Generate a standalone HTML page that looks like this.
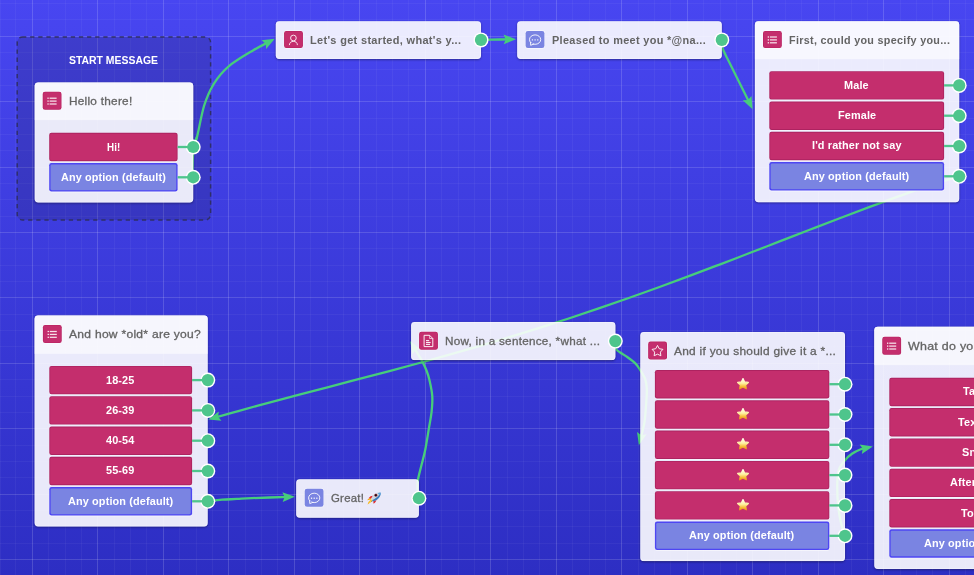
<!DOCTYPE html>
<html><head><meta charset="utf-8"><title>Flow</title>
<style>
html,body{margin:0;padding:0;}
body{width:974px;height:575px;overflow:hidden;position:relative;background:linear-gradient(180deg,#4846f1 0%,#2d2ec3 100%);font-family:"Liberation Sans",sans-serif;}
svg{position:absolute;left:0;top:0;}
#txt{position:absolute;left:0;top:0;width:974px;height:575px;will-change:transform;}
.t{position:absolute;white-space:nowrap;transform-origin:0 50%;}
.g{-webkit-text-stroke:0.3px #646464;}
.star{position:absolute;line-height:0;}
.star svg{position:static;display:block;}
</style></head>
<body>
<svg width="974" height="575" viewBox="0 0 974 575">
<defs><filter id="sh" x="-10%" y="-10%" width="120%" height="130%"><feGaussianBlur stdDeviation="1.3"/></filter></defs>
<g id="grid">
<rect x="0" y="0" width="1" height="575" fill="#fff" opacity="0.045"/>
<rect x="15" y="0" width="1" height="575" fill="#fff" opacity="0.045"/>
<rect x="32" y="0" width="1" height="575" fill="#fff" opacity="0.155"/>
<rect x="48" y="0" width="1" height="575" fill="#fff" opacity="0.045"/>
<rect x="65" y="0" width="1" height="575" fill="#fff" opacity="0.045"/>
<rect x="81" y="0" width="1" height="575" fill="#fff" opacity="0.045"/>
<rect x="97" y="0" width="1" height="575" fill="#fff" opacity="0.155"/>
<rect x="114" y="0" width="1" height="575" fill="#fff" opacity="0.045"/>
<rect x="130" y="0" width="1" height="575" fill="#fff" opacity="0.045"/>
<rect x="146" y="0" width="1" height="575" fill="#fff" opacity="0.045"/>
<rect x="163" y="0" width="1" height="575" fill="#fff" opacity="0.155"/>
<rect x="179" y="0" width="1" height="575" fill="#fff" opacity="0.045"/>
<rect x="196" y="0" width="1" height="575" fill="#fff" opacity="0.045"/>
<rect x="212" y="0" width="1" height="575" fill="#fff" opacity="0.045"/>
<rect x="228" y="0" width="1" height="575" fill="#fff" opacity="0.155"/>
<rect x="245" y="0" width="1" height="575" fill="#fff" opacity="0.045"/>
<rect x="261" y="0" width="1" height="575" fill="#fff" opacity="0.045"/>
<rect x="277" y="0" width="1" height="575" fill="#fff" opacity="0.045"/>
<rect x="294" y="0" width="1" height="575" fill="#fff" opacity="0.155"/>
<rect x="310" y="0" width="1" height="575" fill="#fff" opacity="0.045"/>
<rect x="327" y="0" width="1" height="575" fill="#fff" opacity="0.045"/>
<rect x="343" y="0" width="1" height="575" fill="#fff" opacity="0.045"/>
<rect x="359" y="0" width="1" height="575" fill="#fff" opacity="0.155"/>
<rect x="376" y="0" width="1" height="575" fill="#fff" opacity="0.045"/>
<rect x="392" y="0" width="1" height="575" fill="#fff" opacity="0.045"/>
<rect x="408" y="0" width="1" height="575" fill="#fff" opacity="0.045"/>
<rect x="425" y="0" width="1" height="575" fill="#fff" opacity="0.155"/>
<rect x="441" y="0" width="1" height="575" fill="#fff" opacity="0.045"/>
<rect x="458" y="0" width="1" height="575" fill="#fff" opacity="0.045"/>
<rect x="474" y="0" width="1" height="575" fill="#fff" opacity="0.045"/>
<rect x="490" y="0" width="1" height="575" fill="#fff" opacity="0.155"/>
<rect x="507" y="0" width="1" height="575" fill="#fff" opacity="0.045"/>
<rect x="523" y="0" width="1" height="575" fill="#fff" opacity="0.045"/>
<rect x="539" y="0" width="1" height="575" fill="#fff" opacity="0.045"/>
<rect x="556" y="0" width="1" height="575" fill="#fff" opacity="0.155"/>
<rect x="572" y="0" width="1" height="575" fill="#fff" opacity="0.045"/>
<rect x="589" y="0" width="1" height="575" fill="#fff" opacity="0.045"/>
<rect x="605" y="0" width="1" height="575" fill="#fff" opacity="0.045"/>
<rect x="621" y="0" width="1" height="575" fill="#fff" opacity="0.155"/>
<rect x="638" y="0" width="1" height="575" fill="#fff" opacity="0.045"/>
<rect x="654" y="0" width="1" height="575" fill="#fff" opacity="0.045"/>
<rect x="670" y="0" width="1" height="575" fill="#fff" opacity="0.045"/>
<rect x="687" y="0" width="1" height="575" fill="#fff" opacity="0.155"/>
<rect x="703" y="0" width="1" height="575" fill="#fff" opacity="0.045"/>
<rect x="720" y="0" width="1" height="575" fill="#fff" opacity="0.045"/>
<rect x="736" y="0" width="1" height="575" fill="#fff" opacity="0.045"/>
<rect x="752" y="0" width="1" height="575" fill="#fff" opacity="0.155"/>
<rect x="769" y="0" width="1" height="575" fill="#fff" opacity="0.045"/>
<rect x="785" y="0" width="1" height="575" fill="#fff" opacity="0.045"/>
<rect x="801" y="0" width="1" height="575" fill="#fff" opacity="0.045"/>
<rect x="818" y="0" width="1" height="575" fill="#fff" opacity="0.155"/>
<rect x="834" y="0" width="1" height="575" fill="#fff" opacity="0.045"/>
<rect x="851" y="0" width="1" height="575" fill="#fff" opacity="0.045"/>
<rect x="867" y="0" width="1" height="575" fill="#fff" opacity="0.045"/>
<rect x="883" y="0" width="1" height="575" fill="#fff" opacity="0.155"/>
<rect x="900" y="0" width="1" height="575" fill="#fff" opacity="0.045"/>
<rect x="916" y="0" width="1" height="575" fill="#fff" opacity="0.045"/>
<rect x="932" y="0" width="1" height="575" fill="#fff" opacity="0.045"/>
<rect x="949" y="0" width="1" height="575" fill="#fff" opacity="0.155"/>
<rect x="965" y="0" width="1" height="575" fill="#fff" opacity="0.045"/>
<rect x="0" y="3" width="974" height="1" fill="#fff" opacity="0.045"/>
<rect x="0" y="19" width="974" height="1" fill="#fff" opacity="0.045"/>
<rect x="0" y="36" width="974" height="1" fill="#fff" opacity="0.145"/>
<rect x="0" y="52" width="974" height="1" fill="#fff" opacity="0.045"/>
<rect x="0" y="69" width="974" height="1" fill="#fff" opacity="0.045"/>
<rect x="0" y="85" width="974" height="1" fill="#fff" opacity="0.045"/>
<rect x="0" y="101" width="974" height="1" fill="#fff" opacity="0.145"/>
<rect x="0" y="118" width="974" height="1" fill="#fff" opacity="0.045"/>
<rect x="0" y="134" width="974" height="1" fill="#fff" opacity="0.045"/>
<rect x="0" y="150" width="974" height="1" fill="#fff" opacity="0.045"/>
<rect x="0" y="167" width="974" height="1" fill="#fff" opacity="0.145"/>
<rect x="0" y="183" width="974" height="1" fill="#fff" opacity="0.045"/>
<rect x="0" y="199" width="974" height="1" fill="#fff" opacity="0.045"/>
<rect x="0" y="216" width="974" height="1" fill="#fff" opacity="0.045"/>
<rect x="0" y="232" width="974" height="1" fill="#fff" opacity="0.145"/>
<rect x="0" y="248" width="974" height="1" fill="#fff" opacity="0.045"/>
<rect x="0" y="265" width="974" height="1" fill="#fff" opacity="0.045"/>
<rect x="0" y="281" width="974" height="1" fill="#fff" opacity="0.045"/>
<rect x="0" y="297" width="974" height="1" fill="#fff" opacity="0.145"/>
<rect x="0" y="314" width="974" height="1" fill="#fff" opacity="0.045"/>
<rect x="0" y="330" width="974" height="1" fill="#fff" opacity="0.045"/>
<rect x="0" y="346" width="974" height="1" fill="#fff" opacity="0.045"/>
<rect x="0" y="363" width="974" height="1" fill="#fff" opacity="0.145"/>
<rect x="0" y="379" width="974" height="1" fill="#fff" opacity="0.045"/>
<rect x="0" y="396" width="974" height="1" fill="#fff" opacity="0.045"/>
<rect x="0" y="412" width="974" height="1" fill="#fff" opacity="0.045"/>
<rect x="0" y="428" width="974" height="1" fill="#fff" opacity="0.145"/>
<rect x="0" y="445" width="974" height="1" fill="#fff" opacity="0.045"/>
<rect x="0" y="461" width="974" height="1" fill="#fff" opacity="0.045"/>
<rect x="0" y="477" width="974" height="1" fill="#fff" opacity="0.045"/>
<rect x="0" y="494" width="974" height="1" fill="#fff" opacity="0.145"/>
<rect x="0" y="510" width="974" height="1" fill="#fff" opacity="0.045"/>
<rect x="0" y="526" width="974" height="1" fill="#fff" opacity="0.045"/>
<rect x="0" y="543" width="974" height="1" fill="#fff" opacity="0.045"/>
<rect x="0" y="559" width="974" height="1" fill="#fff" opacity="0.145"/>
<rect x="0" y="575" width="974" height="1" fill="#fff" opacity="0.045"/>
</g>
<rect x="17.2" y="36.9" width="193.4" height="183.1" rx="5.5" ry="5.5" fill="#1e1e46" fill-opacity="0.2" stroke="#2f2f5e" stroke-opacity="0.92" stroke-width="1.45" stroke-dasharray="4.3 3.83" stroke-dashoffset="0.7"/>
<g id="under">
<path d="M 193.4 146.9 C 194 145.23 195.18 143.85 197 136.9 C 198.82 129.95 201.45 114.13 204.3 105.2 C 207.15 96.27 210.03 89.78 214.1 83.3 C 218.17 76.82 222.22 71.78 228.7 66.3 C 235.18 60.82 246.2 54.51 253 50.4 C 259.8 46.29 266.75 43.08 269.5 41.62" fill="none" stroke="#47cd7b" stroke-width="2.3" stroke-linecap="round"/>
<polygon points="274.8,38.8 266.16,48.95 265.71,43.64 261.55,40.3" fill="#47cd7b"/>
<path d="M 192.5 177.3 C 192.52 175.25 192.48 169.05 192.6 165 C 192.72 160.95 192.82 156.67 193.2 153 C 193.58 149.33 194.27 145.68 194.9 143 C 195.53 140.32 196.65 137.92 197 136.9" fill="none" stroke="#47cd7b" stroke-width="2.3" stroke-linecap="round"/>
<path d="M 481 39.9 C 484.17 39.83 495.17 39.59 500 39.5 C 504.83 39.41 508.33 39.4 510 39.37" fill="none" stroke="#47cd7b" stroke-width="2.3" stroke-linecap="round"/>
<polygon points="516,39.3 503.66,44.35 505.7,39.43 503.54,34.56" fill="#47cd7b"/>
<path d="M 721.8 39.9 C 721.88 41.17 721.67 44.98 722.3 47.5 C 722.93 50.02 724.5 52.67 725.6 55 C 726.7 57.33 727.32 58.33 728.9 61.5 C 730.48 64.67 733.15 70.08 735.1 74 C 737.05 77.92 738.13 80.03 740.6 85 C 743.07 89.97 748.38 100.69 749.93 103.82" fill="none" stroke="#47cd7b" stroke-width="2.3" stroke-linecap="round"/>
<polygon points="752.6,109.2 742.7,100.27 748.02,99.97 751.48,95.91" fill="#47cd7b"/>
<path d="M 959.2 176.4 C 954.19 177.95 939.17 182.39 929.16 185.68 C 919.15 188.98 909.13 192.59 899.12 196.17 C 889.11 199.74 879.09 203.43 869.08 207.15 C 859.07 210.87 849.05 214.67 839.04 218.48 C 829.03 222.29 819.01 226.16 809 230.03 C 798.99 233.89 788.97 237.79 778.96 241.67 C 768.95 245.55 758.93 249.44 748.92 253.3 C 738.91 257.15 728.89 261.01 718.88 264.81 C 708.87 268.62 698.85 272.41 688.84 276.15 C 678.83 279.88 668.81 283.58 658.8 287.22 C 648.79 290.86 638.77 294.46 628.76 297.99 C 618.75 301.53 608.73 305.01 598.72 308.42 C 588.71 311.83 578.69 315.18 568.68 318.47 C 558.67 321.76 548.65 324.98 538.64 328.14 C 528.63 331.3 518.61 334.4 508.6 337.43 C 498.59 340.47 488.57 343.44 478.56 346.36 C 468.55 349.28 458.53 352.13 448.52 354.95 C 438.51 357.76 428.49 360.52 418.48 363.24 C 408.47 365.97 398.45 368.64 388.44 371.3 C 378.43 373.96 368.41 376.58 358.4 379.2 C 348.39 381.82 338.37 384.41 328.36 387.02 C 318.35 389.63 308.33 392.22 298.32 394.86 C 288.31 397.49 278.29 400.12 268.28 402.82 C 258.27 405.52 247.29 408.53 238.24 411.04 C 229.19 413.55 218.02 416.73 213.98 417.87" fill="none" stroke="#47cd7b" stroke-width="2.3" stroke-linecap="round"/>
<polygon points="208.2,419.5 218.81,411.42 218.11,416.71 221.46,420.86" fill="#47cd7b"/>
<path d="M 207.8 501 C 210.17 500.78 217.13 500.04 222 499.7 C 226.87 499.36 232 499.22 237 498.95 C 242 498.68 243.35 498.44 252 498.1 C 260.65 497.76 282.75 497.1 288.9 496.9" fill="none" stroke="#47cd7b" stroke-width="2.3" stroke-linecap="round"/>
<polygon points="294.9,496.7 282.67,502 284.61,497.04 282.35,492.21" fill="#47cd7b"/>
<path d="M 418.8 498.1 C 418.58 496.58 417.63 492.1 417.5 489 C 417.37 485.9 417.33 483.5 418 479.5 C 418.67 475.5 420.3 469.92 421.5 465 C 422.7 460.08 423.97 456.07 425.2 450 C 426.43 443.93 427.78 435 428.85 428.6 C 429.92 422.2 431.03 417.07 431.6 411.6 C 432.17 406.13 432.61 401.07 432.25 395.8 C 431.89 390.53 430.39 384.18 429.45 380 C 428.51 375.82 427.86 373.98 426.6 370.75 C 425.34 367.52 424.11 364.65 421.9 360.6 C 419.69 356.55 414.74 348.79 413.31 346.43" fill="none" stroke="#47cd7b" stroke-width="2.3" stroke-linecap="round"/>
<polygon points="410.2,341.3 420.82,349.36 415.54,350.11 412.44,354.44" fill="#47cd7b"/>
<path d="M 615.3 341.2 C 615.38 342.43 614.98 346.72 615.8 348.6 C 616.62 350.48 618.52 351.25 620.2 352.5 C 621.88 353.75 623.38 354.28 625.9 356.1 C 628.42 357.92 632.9 361.05 635.3 363.4 C 637.7 365.75 638.65 367.58 640.3 370.2 C 641.95 372.82 644.12 376.05 645.2 379.1 C 646.28 382.15 646.6 384.98 646.8 388.5 C 647 392.02 646.78 394.6 646.4 400.2 C 646.02 405.8 645.51 415.57 644.5 422.1 C 643.49 428.63 641.01 436.49 640.31 439.37" fill="none" stroke="#47cd7b" stroke-width="2.3" stroke-linecap="round"/>
<polygon points="638.9,445.2 637.06,431.99 641.33,435.19 646.58,434.3" fill="#47cd7b"/>
<path d="M 845 535.8 C 844.32 533.57 842.05 527.42 840.9 522.4 C 839.75 517.38 838.7 512.18 838.1 505.7 C 837.5 499.22 837.17 489.52 837.3 483.5 C 837.43 477.48 837.62 473.48 838.9 469.6 C 840.18 465.72 842.82 462.83 845 460.2 C 847.18 457.57 849.37 455.62 852 453.8 C 854.63 451.98 858.31 450.29 860.8 449.3 C 863.29 448.31 865.93 448.1 866.96 447.86" fill="none" stroke="#47cd7b" stroke-width="2.3" stroke-linecap="round"/>
<polygon points="872.8,446.5 861.84,454.09 862.77,448.84 859.61,444.55" fill="#47cd7b"/>
</g>
<g id="cards">
<clipPath id="c0o"><path clip-rule="evenodd" d="M -20 -20 H 1100 V 700 H -20 Z M 38.1 82.4 h 151.7 a 3.4 3.4 0 0 1 3.4 3.4 v 113.3 a 3.4 3.4 0 0 1 -3.4 3.4 h -151.7 a 3.4 3.4 0 0 1 -3.4 -3.4 v -113.3 a 3.4 3.4 0 0 1 3.4 -3.4 z"/></clipPath>
<g clip-path="url(#c0o)"><rect x="34.7" y="83.2" width="158.5" height="120.1" rx="3.4" ry="3.4" fill="#000" filter="url(#sh)" opacity="0.42"/></g>
<clipPath id="c0"><rect x="34.7" y="82.4" width="158.5" height="120.1" rx="3.4" ry="3.4" fill="#fff" /></clipPath>
<g clip-path="url(#c0)">
<rect x="33.7" y="81.4" width="160.5" height="122.1" fill="#fff" fill-opacity="0.893"/>
<rect x="33.7" y="81.4" width="160.5" height="38.7" fill="#fff" fill-opacity="0.58"/>
</g>
<rect x="35.11" y="82.81" width="157.68" height="119.28" rx="3.1" ry="3.1" fill="none" stroke="#fff" stroke-opacity="0.4" stroke-width="0.82"/>
<rect x="42.15" y="91.15" width="19.9" height="19.1" rx="2.8" ry="2.8" fill="#fff" fill-opacity="0.6"/>
<rect x="42.7" y="91.7" width="18.8" height="18" rx="2.3" ry="2.3" fill="#b62060" />
<rect x="43.3" y="92.3" width="17.6" height="16.8" rx="1.8" ry="1.8" fill="#c42e6d" />
<rect x="47.4" y="97.58" width="1.3" height="1.25" fill="#fff" opacity=".95"/>
<rect x="49.6" y="97.58" width="7.0" height="1.25" fill="#fff" opacity=".85"/>
<rect x="47.4" y="100.48" width="1.3" height="1.25" fill="#fff" opacity=".95"/>
<rect x="49.6" y="100.48" width="7.0" height="1.25" fill="#fff" opacity=".85"/>
<rect x="47.4" y="103.38" width="1.3" height="1.25" fill="#fff" opacity=".95"/>
<rect x="49.6" y="103.38" width="7.0" height="1.25" fill="#fff" opacity=".85"/>
<rect x="49.2" y="133.7" width="128.4" height="28.4" rx="2.2" ry="2.2" fill="#fff" fill-opacity="0.55"/>
<rect x="49.2" y="132.8" width="128.4" height="28.4" rx="2.2" ry="2.2" fill="#ad2360" />
<rect x="50.1" y="133.7" width="126.6" height="26.6" rx="1.4" ry="1.4" fill="#c42e6d" />
<circle cx="193.2" cy="147" r="7.5" fill="#fff"/>
<rect x="177.6" y="145.85" width="15.6" height="2.3" fill="#4ec58c"/>
<circle cx="193.2" cy="147" r="6.1" fill="#4ec58c"/>
<rect x="49.2" y="164" width="128.4" height="28.4" rx="2.2" ry="2.2" fill="#fff" fill-opacity="0.55"/>
<rect x="49.2" y="163.1" width="128.4" height="28.4" rx="2.2" ry="2.2" fill="#4e46f3" />
<rect x="50.55" y="164.45" width="125.7" height="25.7" rx="1.4" ry="1.4" fill="#7a84e2" />
<circle cx="193.2" cy="177.3" r="7.5" fill="#fff"/>
<rect x="177.6" y="176.15" width="15.6" height="2.3" fill="#4ec58c"/>
<circle cx="193.2" cy="177.3" r="6.1" fill="#4ec58c"/>
<clipPath id="c29o"><path clip-rule="evenodd" d="M -20 -20 H 1100 V 700 H -20 Z M 279.2 21.2 h 198.4 a 3.4 3.4 0 0 1 3.4 3.4 v 30.9 a 3.4 3.4 0 0 1 -3.4 3.4 h -198.4 a 3.4 3.4 0 0 1 -3.4 -3.4 v -30.9 a 3.4 3.4 0 0 1 3.4 -3.4 z"/></clipPath>
<g clip-path="url(#c29o)"><rect x="275.8" y="22" width="205.2" height="37.7" rx="3.4" ry="3.4" fill="#000" filter="url(#sh)" opacity="0.42"/></g>
<clipPath id="c29"><rect x="275.8" y="21.2" width="205.2" height="37.7" rx="3.4" ry="3.4" fill="#fff" /></clipPath>
<rect x="275.8" y="21.2" width="205.2" height="37.7" rx="3.4" ry="3.4" fill="#fff" fill-opacity="0.893"/>
<rect x="276.21" y="21.61" width="204.38" height="36.88" rx="3.1" ry="3.1" fill="none" stroke="#fff" stroke-opacity="0.4" stroke-width="0.82"/>
<rect x="283.55" y="30.35" width="19.9" height="18.3" rx="2.8" ry="2.8" fill="#fff" fill-opacity="0.6"/>
<rect x="284.1" y="30.9" width="18.8" height="17.2" rx="2.3" ry="2.3" fill="#b62060" />
<rect x="284.7" y="31.5" width="17.6" height="16" rx="1.8" ry="1.8" fill="#c42e6d" />
<circle cx="293.4" cy="38" r="2.85" fill="none" stroke="#fff" stroke-opacity=".85" stroke-width="1.0"/>
<path d="M 289.4 44.7 C 289.6 42.4 291.2 41.4 293.4 41.4 C 295.6 41.4 297.2 42.4 297.4 44.7" fill="none" stroke="#fff" stroke-opacity=".85" stroke-width="1.0" stroke-linecap="round"/>
<circle cx="481" cy="39.9" r="7.5" fill="#fff"/>
<circle cx="481" cy="39.9" r="6.1" fill="#4ec58c"/>
<clipPath id="c41o"><path clip-rule="evenodd" d="M -20 -20 H 1100 V 700 H -20 Z M 520.6 21.2 h 197.8 a 3.4 3.4 0 0 1 3.4 3.4 v 30.9 a 3.4 3.4 0 0 1 -3.4 3.4 h -197.8 a 3.4 3.4 0 0 1 -3.4 -3.4 v -30.9 a 3.4 3.4 0 0 1 3.4 -3.4 z"/></clipPath>
<g clip-path="url(#c41o)"><rect x="517.2" y="22" width="204.6" height="37.7" rx="3.4" ry="3.4" fill="#000" filter="url(#sh)" opacity="0.42"/></g>
<clipPath id="c41"><rect x="517.2" y="21.2" width="204.6" height="37.7" rx="3.4" ry="3.4" fill="#fff" /></clipPath>
<rect x="517.2" y="21.2" width="204.6" height="37.7" rx="3.4" ry="3.4" fill="#fff" fill-opacity="0.893"/>
<rect x="517.61" y="21.61" width="203.78" height="36.88" rx="3.1" ry="3.1" fill="none" stroke="#fff" stroke-opacity="0.4" stroke-width="0.82"/>
<rect x="525.05" y="30.35" width="19.9" height="18.3" rx="2.8" ry="2.8" fill="#fff" fill-opacity="0.6"/>
<rect x="525.6" y="30.9" width="18.8" height="17.2" rx="2.3" ry="2.3" fill="#7a84e2" />
<ellipse cx="535.1" cy="39.6" rx="5.6" ry="4.7" fill="none" stroke="#fff" stroke-opacity=".88" stroke-width="1.0"/>
<path d="M 530.5 42.3 L 530.7 45.3 L 533.6 44.1" fill="#7a84e2" stroke="#fff" stroke-opacity=".88" stroke-width="1.0" stroke-linejoin="round" stroke-linecap="round"/>
<rect x="531.8" y="39.2" width="1.3" height="1.4" rx=".3" fill="#fff" opacity=".85"/>
<rect x="534.45" y="39.2" width="1.3" height="1.4" rx=".3" fill="#fff" opacity=".85"/>
<rect x="537.1" y="39.2" width="1.3" height="1.4" rx=".3" fill="#fff" opacity=".85"/>
<circle cx="721.8" cy="39.9" r="7.5" fill="#fff"/>
<circle cx="721.8" cy="39.9" r="6.1" fill="#4ec58c"/>
<clipPath id="c55o"><path clip-rule="evenodd" d="M -20 -20 H 1100 V 700 H -20 Z M 758.3 21.3 h 197.5 a 3.4 3.4 0 0 1 3.4 3.4 v 174.1 a 3.4 3.4 0 0 1 -3.4 3.4 h -197.5 a 3.4 3.4 0 0 1 -3.4 -3.4 v -174.1 a 3.4 3.4 0 0 1 3.4 -3.4 z"/></clipPath>
<g clip-path="url(#c55o)"><rect x="754.9" y="22.1" width="204.3" height="180.9" rx="3.4" ry="3.4" fill="#000" filter="url(#sh)" opacity="0.42"/></g>
<clipPath id="c55"><rect x="754.9" y="21.3" width="204.3" height="180.9" rx="3.4" ry="3.4" fill="#fff" /></clipPath>
<g clip-path="url(#c55)">
<rect x="753.9" y="20.3" width="206.3" height="182.9" fill="#fff" fill-opacity="0.893"/>
<rect x="753.9" y="20.3" width="206.3" height="38.9" fill="#fff" fill-opacity="0.58"/>
</g>
<rect x="755.31" y="21.71" width="203.48" height="180.08" rx="3.1" ry="3.1" fill="none" stroke="#fff" stroke-opacity="0.4" stroke-width="0.82"/>
<rect x="762.45" y="30.35" width="19.9" height="18.3" rx="2.8" ry="2.8" fill="#fff" fill-opacity="0.6"/>
<rect x="763" y="30.9" width="18.8" height="17.2" rx="2.3" ry="2.3" fill="#b62060" />
<rect x="763.6" y="31.5" width="17.6" height="16" rx="1.8" ry="1.8" fill="#c42e6d" />
<rect x="767.7" y="36.38" width="1.3" height="1.25" fill="#fff" opacity=".95"/>
<rect x="769.9" y="36.38" width="7.0" height="1.25" fill="#fff" opacity=".85"/>
<rect x="767.7" y="39.28" width="1.3" height="1.25" fill="#fff" opacity=".95"/>
<rect x="769.9" y="39.28" width="7.0" height="1.25" fill="#fff" opacity=".85"/>
<rect x="767.7" y="42.18" width="1.3" height="1.25" fill="#fff" opacity=".95"/>
<rect x="769.9" y="42.18" width="7.0" height="1.25" fill="#fff" opacity=".85"/>
<rect x="769.3" y="72.1" width="174.8" height="28.4" rx="2.2" ry="2.2" fill="#fff" fill-opacity="0.55"/>
<rect x="769.3" y="71.2" width="174.8" height="28.4" rx="2.2" ry="2.2" fill="#ad2360" />
<rect x="770.2" y="72.1" width="173" height="26.6" rx="1.4" ry="1.4" fill="#c42e6d" />
<circle cx="959.2" cy="85.4" r="7.5" fill="#fff"/>
<rect x="944.1" y="84.25" width="15.1" height="2.3" fill="#4ec58c"/>
<circle cx="959.2" cy="85.4" r="6.1" fill="#4ec58c"/>
<rect x="769.3" y="102.4" width="174.8" height="28.4" rx="2.2" ry="2.2" fill="#fff" fill-opacity="0.55"/>
<rect x="769.3" y="101.5" width="174.8" height="28.4" rx="2.2" ry="2.2" fill="#ad2360" />
<rect x="770.2" y="102.4" width="173" height="26.6" rx="1.4" ry="1.4" fill="#c42e6d" />
<circle cx="959.2" cy="115.7" r="7.5" fill="#fff"/>
<rect x="944.1" y="114.55" width="15.1" height="2.3" fill="#4ec58c"/>
<circle cx="959.2" cy="115.7" r="6.1" fill="#4ec58c"/>
<rect x="769.3" y="132.7" width="174.8" height="28.4" rx="2.2" ry="2.2" fill="#fff" fill-opacity="0.55"/>
<rect x="769.3" y="131.8" width="174.8" height="28.4" rx="2.2" ry="2.2" fill="#ad2360" />
<rect x="770.2" y="132.7" width="173" height="26.6" rx="1.4" ry="1.4" fill="#c42e6d" />
<circle cx="959.2" cy="146" r="7.5" fill="#fff"/>
<rect x="944.1" y="144.85" width="15.1" height="2.3" fill="#4ec58c"/>
<circle cx="959.2" cy="146" r="6.1" fill="#4ec58c"/>
<rect x="769.3" y="163" width="174.8" height="28.4" rx="2.2" ry="2.2" fill="#fff" fill-opacity="0.55"/>
<rect x="769.3" y="162.1" width="174.8" height="28.4" rx="2.2" ry="2.2" fill="#4e46f3" />
<rect x="770.65" y="163.45" width="172.1" height="25.7" rx="1.4" ry="1.4" fill="#7a84e2" />
<circle cx="959.2" cy="176.3" r="7.5" fill="#fff"/>
<rect x="944.1" y="175.15" width="15.1" height="2.3" fill="#4ec58c"/>
<circle cx="959.2" cy="176.3" r="6.1" fill="#4ec58c"/>
<clipPath id="c96o"><path clip-rule="evenodd" d="M -20 -20 H 1100 V 700 H -20 Z M 38 315.4 h 166.3 a 3.4 3.4 0 0 1 3.4 3.4 v 204.2 a 3.4 3.4 0 0 1 -3.4 3.4 h -166.3 a 3.4 3.4 0 0 1 -3.4 -3.4 v -204.2 a 3.4 3.4 0 0 1 3.4 -3.4 z"/></clipPath>
<g clip-path="url(#c96o)"><rect x="34.6" y="316.2" width="173.1" height="211" rx="3.4" ry="3.4" fill="#000" filter="url(#sh)" opacity="0.42"/></g>
<clipPath id="c96"><rect x="34.6" y="315.4" width="173.1" height="211" rx="3.4" ry="3.4" fill="#fff" /></clipPath>
<g clip-path="url(#c96)">
<rect x="33.6" y="314.4" width="175.1" height="213" fill="#fff" fill-opacity="0.893"/>
<rect x="33.6" y="314.4" width="175.1" height="39.4" fill="#fff" fill-opacity="0.58"/>
</g>
<rect x="35.01" y="315.81" width="172.28" height="210.18" rx="3.1" ry="3.1" fill="none" stroke="#fff" stroke-opacity="0.4" stroke-width="0.82"/>
<rect x="42.35" y="324.45" width="19.9" height="19.1" rx="2.8" ry="2.8" fill="#fff" fill-opacity="0.6"/>
<rect x="42.9" y="325" width="18.8" height="18" rx="2.3" ry="2.3" fill="#b62060" />
<rect x="43.5" y="325.6" width="17.6" height="16.8" rx="1.8" ry="1.8" fill="#c42e6d" />
<rect x="47.6" y="330.88" width="1.3" height="1.25" fill="#fff" opacity=".95"/>
<rect x="49.8" y="330.88" width="7.0" height="1.25" fill="#fff" opacity=".85"/>
<rect x="47.6" y="333.78" width="1.3" height="1.25" fill="#fff" opacity=".95"/>
<rect x="49.8" y="333.78" width="7.0" height="1.25" fill="#fff" opacity=".85"/>
<rect x="47.6" y="336.68" width="1.3" height="1.25" fill="#fff" opacity=".95"/>
<rect x="49.8" y="336.68" width="7.0" height="1.25" fill="#fff" opacity=".85"/>
<rect x="49.3" y="366.8" width="142.8" height="28.4" rx="2.2" ry="2.2" fill="#fff" fill-opacity="0.55"/>
<rect x="49.3" y="365.9" width="142.8" height="28.4" rx="2.2" ry="2.2" fill="#ad2360" />
<rect x="50.2" y="366.8" width="141" height="26.6" rx="1.4" ry="1.4" fill="#c42e6d" />
<circle cx="207.8" cy="380.1" r="7.5" fill="#fff"/>
<rect x="192.1" y="378.95" width="15.7" height="2.3" fill="#4ec58c"/>
<circle cx="207.8" cy="380.1" r="6.1" fill="#4ec58c"/>
<rect x="49.3" y="397.1" width="142.8" height="28.4" rx="2.2" ry="2.2" fill="#fff" fill-opacity="0.55"/>
<rect x="49.3" y="396.2" width="142.8" height="28.4" rx="2.2" ry="2.2" fill="#ad2360" />
<rect x="50.2" y="397.1" width="141" height="26.6" rx="1.4" ry="1.4" fill="#c42e6d" />
<circle cx="207.8" cy="410.4" r="7.5" fill="#fff"/>
<rect x="192.1" y="409.25" width="15.7" height="2.3" fill="#4ec58c"/>
<circle cx="207.8" cy="410.4" r="6.1" fill="#4ec58c"/>
<rect x="49.3" y="427.4" width="142.8" height="28.4" rx="2.2" ry="2.2" fill="#fff" fill-opacity="0.55"/>
<rect x="49.3" y="426.5" width="142.8" height="28.4" rx="2.2" ry="2.2" fill="#ad2360" />
<rect x="50.2" y="427.4" width="141" height="26.6" rx="1.4" ry="1.4" fill="#c42e6d" />
<circle cx="207.8" cy="440.7" r="7.5" fill="#fff"/>
<rect x="192.1" y="439.55" width="15.7" height="2.3" fill="#4ec58c"/>
<circle cx="207.8" cy="440.7" r="6.1" fill="#4ec58c"/>
<rect x="49.3" y="457.7" width="142.8" height="28.4" rx="2.2" ry="2.2" fill="#fff" fill-opacity="0.55"/>
<rect x="49.3" y="456.8" width="142.8" height="28.4" rx="2.2" ry="2.2" fill="#ad2360" />
<rect x="50.2" y="457.7" width="141" height="26.6" rx="1.4" ry="1.4" fill="#c42e6d" />
<circle cx="207.8" cy="471" r="7.5" fill="#fff"/>
<rect x="192.1" y="469.85" width="15.7" height="2.3" fill="#4ec58c"/>
<circle cx="207.8" cy="471" r="6.1" fill="#4ec58c"/>
<rect x="49.3" y="488" width="142.8" height="28.4" rx="2.2" ry="2.2" fill="#fff" fill-opacity="0.55"/>
<rect x="49.3" y="487.1" width="142.8" height="28.4" rx="2.2" ry="2.2" fill="#4e46f3" />
<rect x="50.65" y="488.45" width="140.1" height="25.7" rx="1.4" ry="1.4" fill="#7a84e2" />
<circle cx="207.8" cy="501.3" r="7.5" fill="#fff"/>
<rect x="192.1" y="500.15" width="15.7" height="2.3" fill="#4ec58c"/>
<circle cx="207.8" cy="501.3" r="6.1" fill="#4ec58c"/>
<clipPath id="c143o"><path clip-rule="evenodd" d="M -20 -20 H 1100 V 700 H -20 Z M 299.6 479.3 h 115.9 a 3.4 3.4 0 0 1 3.4 3.4 v 31.6 a 3.4 3.4 0 0 1 -3.4 3.4 h -115.9 a 3.4 3.4 0 0 1 -3.4 -3.4 v -31.6 a 3.4 3.4 0 0 1 3.4 -3.4 z"/></clipPath>
<g clip-path="url(#c143o)"><rect x="296.2" y="480.1" width="122.7" height="38.4" rx="3.4" ry="3.4" fill="#000" filter="url(#sh)" opacity="0.42"/></g>
<clipPath id="c143"><rect x="296.2" y="479.3" width="122.7" height="38.4" rx="3.4" ry="3.4" fill="#fff" /></clipPath>
<rect x="296.2" y="479.3" width="122.7" height="38.4" rx="3.4" ry="3.4" fill="#fff" fill-opacity="0.893"/>
<rect x="296.61" y="479.71" width="121.88" height="37.58" rx="3.1" ry="3.1" fill="none" stroke="#fff" stroke-opacity="0.4" stroke-width="0.82"/>
<rect x="304.15" y="488.25" width="19.9" height="19.1" rx="2.8" ry="2.8" fill="#fff" fill-opacity="0.6"/>
<rect x="304.7" y="488.8" width="18.8" height="18" rx="2.3" ry="2.3" fill="#7a84e2" />
<ellipse cx="314.2" cy="497.9" rx="5.6" ry="4.7" fill="none" stroke="#fff" stroke-opacity=".88" stroke-width="1.0"/>
<path d="M 309.6 500.6 L 309.8 503.6 L 312.7 502.4" fill="#7a84e2" stroke="#fff" stroke-opacity=".88" stroke-width="1.0" stroke-linejoin="round" stroke-linecap="round"/>
<rect x="310.9" y="497.5" width="1.3" height="1.4" rx=".3" fill="#fff" opacity=".85"/>
<rect x="313.55" y="497.5" width="1.3" height="1.4" rx=".3" fill="#fff" opacity=".85"/>
<rect x="316.2" y="497.5" width="1.3" height="1.4" rx=".3" fill="#fff" opacity=".85"/>
<circle cx="418.9" cy="498.2" r="7.5" fill="#fff"/>
<circle cx="418.9" cy="498.2" r="6.1" fill="#4ec58c"/>
<clipPath id="c157o"><path clip-rule="evenodd" d="M -20 -20 H 1100 V 700 H -20 Z M 414.5 322 h 197.5 a 3.4 3.4 0 0 1 3.4 3.4 v 31.3 a 3.4 3.4 0 0 1 -3.4 3.4 h -197.5 a 3.4 3.4 0 0 1 -3.4 -3.4 v -31.3 a 3.4 3.4 0 0 1 3.4 -3.4 z"/></clipPath>
<g clip-path="url(#c157o)"><rect x="411.1" y="322.8" width="204.3" height="38.1" rx="3.4" ry="3.4" fill="#000" filter="url(#sh)" opacity="0.42"/></g>
<clipPath id="c157"><rect x="411.1" y="322" width="204.3" height="38.1" rx="3.4" ry="3.4" fill="#fff" /></clipPath>
<rect x="411.1" y="322" width="204.3" height="38.1" rx="3.4" ry="3.4" fill="#fff" fill-opacity="0.893"/>
<rect x="411.51" y="322.41" width="203.48" height="37.28" rx="3.1" ry="3.1" fill="none" stroke="#fff" stroke-opacity="0.4" stroke-width="0.82"/>
<rect x="418.55" y="331.15" width="19.9" height="19.1" rx="2.8" ry="2.8" fill="#fff" fill-opacity="0.6"/>
<rect x="419.1" y="331.7" width="18.8" height="18" rx="2.3" ry="2.3" fill="#b62060" />
<rect x="419.7" y="332.3" width="17.6" height="16.8" rx="1.8" ry="1.8" fill="#c42e6d" />
<path d="M 424.1 335.3 H 429.6 L 432.8 338.5 V 346.6 H 424.1 Z" fill="none" stroke="#fff" stroke-opacity=".92" stroke-width="1.0" stroke-linejoin="round"/>
<path d="M 429.6 335.3 V 338.5 H 432.8" fill="none" stroke="#fff" stroke-opacity=".8" stroke-width="0.8"/>
<rect x="426" y="340.05" width="3.2" height="1.1" fill="#fff" opacity=".92"/>
<rect x="426" y="341.95" width="4.6" height="1.1" fill="#fff" opacity=".92"/>
<rect x="426" y="343.85" width="4" height="1.1" fill="#fff" opacity=".92"/>
<circle cx="615.3" cy="341.1" r="7.5" fill="#fff"/>
<circle cx="615.3" cy="341.1" r="6.1" fill="#4ec58c"/>
<clipPath id="c172o"><path clip-rule="evenodd" d="M -20 -20 H 1100 V 700 H -20 Z M 643.7 332 h 197.9 a 3.4 3.4 0 0 1 3.4 3.4 v 222.3 a 3.4 3.4 0 0 1 -3.4 3.4 h -197.9 a 3.4 3.4 0 0 1 -3.4 -3.4 v -222.3 a 3.4 3.4 0 0 1 3.4 -3.4 z"/></clipPath>
<g clip-path="url(#c172o)"><rect x="640.3" y="332.8" width="204.7" height="229.1" rx="3.4" ry="3.4" fill="#000" filter="url(#sh)" opacity="0.42"/></g>
<clipPath id="c172"><rect x="640.3" y="332" width="204.7" height="229.1" rx="3.4" ry="3.4" fill="#fff" /></clipPath>
<rect x="640.3" y="332" width="204.7" height="229.1" rx="3.4" ry="3.4" fill="#fff" fill-opacity="0.893"/>
<rect x="640.71" y="332.41" width="203.88" height="228.28" rx="3.1" ry="3.1" fill="none" stroke="#fff" stroke-opacity="0.4" stroke-width="0.82"/>
<rect x="647.65" y="341.05" width="19.9" height="19.1" rx="2.8" ry="2.8" fill="#fff" fill-opacity="0.6"/>
<rect x="648.2" y="341.6" width="18.8" height="18" rx="2.3" ry="2.3" fill="#b62060" />
<rect x="648.8" y="342.2" width="17.6" height="16.8" rx="1.8" ry="1.8" fill="#c42e6d" />
<polygon points="657.5,345.45 659.26,348.72 662.92,349.39 660.35,352.08 660.85,355.76 657.5,354.15 654.15,355.76 654.65,352.08 652.08,349.39 655.74,348.72" fill="none" stroke="#fff" stroke-opacity=".9" stroke-width="1.0" stroke-linejoin="round"/>
<rect x="654.9" y="370.9" width="174.4" height="28.4" rx="2.2" ry="2.2" fill="#fff" fill-opacity="0.55"/>
<rect x="654.9" y="370" width="174.4" height="28.4" rx="2.2" ry="2.2" fill="#ad2360" />
<rect x="655.8" y="370.9" width="172.6" height="26.6" rx="1.4" ry="1.4" fill="#c42e6d" />
<circle cx="845" cy="384.2" r="7.5" fill="#fff"/>
<rect x="829.3" y="383.05" width="15.7" height="2.3" fill="#4ec58c"/>
<circle cx="845" cy="384.2" r="6.1" fill="#4ec58c"/>
<rect x="654.9" y="401.2" width="174.4" height="28.4" rx="2.2" ry="2.2" fill="#fff" fill-opacity="0.55"/>
<rect x="654.9" y="400.3" width="174.4" height="28.4" rx="2.2" ry="2.2" fill="#ad2360" />
<rect x="655.8" y="401.2" width="172.6" height="26.6" rx="1.4" ry="1.4" fill="#c42e6d" />
<circle cx="845" cy="414.5" r="7.5" fill="#fff"/>
<rect x="829.3" y="413.35" width="15.7" height="2.3" fill="#4ec58c"/>
<circle cx="845" cy="414.5" r="6.1" fill="#4ec58c"/>
<rect x="654.9" y="431.5" width="174.4" height="28.4" rx="2.2" ry="2.2" fill="#fff" fill-opacity="0.55"/>
<rect x="654.9" y="430.6" width="174.4" height="28.4" rx="2.2" ry="2.2" fill="#ad2360" />
<rect x="655.8" y="431.5" width="172.6" height="26.6" rx="1.4" ry="1.4" fill="#c42e6d" />
<circle cx="845" cy="444.8" r="7.5" fill="#fff"/>
<rect x="829.3" y="443.65" width="15.7" height="2.3" fill="#4ec58c"/>
<circle cx="845" cy="444.8" r="6.1" fill="#4ec58c"/>
<rect x="654.9" y="461.8" width="174.4" height="28.4" rx="2.2" ry="2.2" fill="#fff" fill-opacity="0.55"/>
<rect x="654.9" y="460.9" width="174.4" height="28.4" rx="2.2" ry="2.2" fill="#ad2360" />
<rect x="655.8" y="461.8" width="172.6" height="26.6" rx="1.4" ry="1.4" fill="#c42e6d" />
<circle cx="845" cy="475.1" r="7.5" fill="#fff"/>
<rect x="829.3" y="473.95" width="15.7" height="2.3" fill="#4ec58c"/>
<circle cx="845" cy="475.1" r="6.1" fill="#4ec58c"/>
<rect x="654.9" y="492.1" width="174.4" height="28.4" rx="2.2" ry="2.2" fill="#fff" fill-opacity="0.55"/>
<rect x="654.9" y="491.2" width="174.4" height="28.4" rx="2.2" ry="2.2" fill="#ad2360" />
<rect x="655.8" y="492.1" width="172.6" height="26.6" rx="1.4" ry="1.4" fill="#c42e6d" />
<circle cx="845" cy="505.4" r="7.5" fill="#fff"/>
<rect x="829.3" y="504.25" width="15.7" height="2.3" fill="#4ec58c"/>
<circle cx="845" cy="505.4" r="6.1" fill="#4ec58c"/>
<rect x="654.9" y="522.5" width="174.4" height="28.4" rx="2.2" ry="2.2" fill="#fff" fill-opacity="0.55"/>
<rect x="654.9" y="521.6" width="174.4" height="28.4" rx="2.2" ry="2.2" fill="#4e46f3" />
<rect x="656.25" y="522.95" width="171.7" height="25.7" rx="1.4" ry="1.4" fill="#7a84e2" />
<circle cx="845" cy="535.8" r="7.5" fill="#fff"/>
<rect x="829.3" y="534.65" width="15.7" height="2.3" fill="#4ec58c"/>
<circle cx="845" cy="535.8" r="6.1" fill="#4ec58c"/>
<clipPath id="c217o"><path clip-rule="evenodd" d="M -20 -20 H 1100 V 700 H -20 Z M 877.7 326.8 h 197.9 a 3.4 3.4 0 0 1 3.4 3.4 v 235.4 a 3.4 3.4 0 0 1 -3.4 3.4 h -197.9 a 3.4 3.4 0 0 1 -3.4 -3.4 v -235.4 a 3.4 3.4 0 0 1 3.4 -3.4 z"/></clipPath>
<g clip-path="url(#c217o)"><rect x="874.3" y="327.6" width="204.7" height="242.2" rx="3.4" ry="3.4" fill="#000" filter="url(#sh)" opacity="0.42"/></g>
<clipPath id="c217"><rect x="874.3" y="326.8" width="204.7" height="242.2" rx="3.4" ry="3.4" fill="#fff" /></clipPath>
<g clip-path="url(#c217)">
<rect x="873.3" y="325.8" width="206.7" height="244.2" fill="#fff" fill-opacity="0.893"/>
<rect x="873.3" y="325.8" width="206.7" height="39.3" fill="#fff" fill-opacity="0.58"/>
</g>
<rect x="874.71" y="327.21" width="203.88" height="241.38" rx="3.1" ry="3.1" fill="none" stroke="#fff" stroke-opacity="0.4" stroke-width="0.82"/>
<rect x="881.75" y="336.15" width="19.9" height="19.1" rx="2.8" ry="2.8" fill="#fff" fill-opacity="0.6"/>
<rect x="882.3" y="336.7" width="18.8" height="18" rx="2.3" ry="2.3" fill="#b62060" />
<rect x="882.9" y="337.3" width="17.6" height="16.8" rx="1.8" ry="1.8" fill="#c42e6d" />
<rect x="887" y="342.58" width="1.3" height="1.25" fill="#fff" opacity=".95"/>
<rect x="889.2" y="342.58" width="7.0" height="1.25" fill="#fff" opacity=".85"/>
<rect x="887" y="345.48" width="1.3" height="1.25" fill="#fff" opacity=".95"/>
<rect x="889.2" y="345.48" width="7.0" height="1.25" fill="#fff" opacity=".85"/>
<rect x="887" y="348.38" width="1.3" height="1.25" fill="#fff" opacity=".95"/>
<rect x="889.2" y="348.38" width="7.0" height="1.25" fill="#fff" opacity=".85"/>
<rect x="889.3" y="378.7" width="174.2" height="28.4" rx="2.2" ry="2.2" fill="#fff" fill-opacity="0.55"/>
<rect x="889.3" y="377.8" width="174.2" height="28.4" rx="2.2" ry="2.2" fill="#ad2360" />
<rect x="890.2" y="378.7" width="172.4" height="26.6" rx="1.4" ry="1.4" fill="#c42e6d" />
<rect x="1063.5" y="390.85" width="15.5" height="2.3" fill="#4ec58c"/>
<rect x="889.3" y="409" width="174.2" height="28.4" rx="2.2" ry="2.2" fill="#fff" fill-opacity="0.55"/>
<rect x="889.3" y="408.1" width="174.2" height="28.4" rx="2.2" ry="2.2" fill="#ad2360" />
<rect x="890.2" y="409" width="172.4" height="26.6" rx="1.4" ry="1.4" fill="#c42e6d" />
<rect x="1063.5" y="421.15" width="15.5" height="2.3" fill="#4ec58c"/>
<rect x="889.3" y="439.3" width="174.2" height="28.4" rx="2.2" ry="2.2" fill="#fff" fill-opacity="0.55"/>
<rect x="889.3" y="438.4" width="174.2" height="28.4" rx="2.2" ry="2.2" fill="#ad2360" />
<rect x="890.2" y="439.3" width="172.4" height="26.6" rx="1.4" ry="1.4" fill="#c42e6d" />
<rect x="1063.5" y="451.45" width="15.5" height="2.3" fill="#4ec58c"/>
<rect x="889.3" y="469.6" width="174.2" height="28.4" rx="2.2" ry="2.2" fill="#fff" fill-opacity="0.55"/>
<rect x="889.3" y="468.7" width="174.2" height="28.4" rx="2.2" ry="2.2" fill="#ad2360" />
<rect x="890.2" y="469.6" width="172.4" height="26.6" rx="1.4" ry="1.4" fill="#c42e6d" />
<rect x="1063.5" y="481.75" width="15.5" height="2.3" fill="#4ec58c"/>
<rect x="889.3" y="499.9" width="174.2" height="28.4" rx="2.2" ry="2.2" fill="#fff" fill-opacity="0.55"/>
<rect x="889.3" y="499" width="174.2" height="28.4" rx="2.2" ry="2.2" fill="#ad2360" />
<rect x="890.2" y="499.9" width="172.4" height="26.6" rx="1.4" ry="1.4" fill="#c42e6d" />
<rect x="1063.5" y="512.05" width="15.5" height="2.3" fill="#4ec58c"/>
<rect x="889.3" y="530.2" width="174.2" height="28.4" rx="2.2" ry="2.2" fill="#fff" fill-opacity="0.55"/>
<rect x="889.3" y="529.3" width="174.2" height="28.4" rx="2.2" ry="2.2" fill="#4e46f3" />
<rect x="890.65" y="530.65" width="171.5" height="25.7" rx="1.4" ry="1.4" fill="#7a84e2" />
<rect x="1063.5" y="542.35" width="15.5" height="2.3" fill="#4ec58c"/>
</g>
</svg>
<svg width="0" height="0" style="position:absolute"><defs><linearGradient id="sg" x1="0" y1="0" x2="0" y2="1"><stop offset="0" stop-color="#fffbe6"/><stop offset="0.45" stop-color="#fff3a6"/><stop offset="0.75" stop-color="#f8c440"/><stop offset="1" stop-color="#ee9a1c"/></linearGradient></defs></svg>
<div id="txt">
<div class="t" style="left:68.65px;top:95.18px;font-size:11.2px;font-weight:400;color:#646464;line-height:12.87px;letter-spacing:0.25px;transform:scaleX(1.0535);-webkit-text-stroke:0.3px #646464;">Hello&nbsp;there!</div>
<div class="t" style="left:106.7px;top:142.22px;font-size:10px;font-weight:700;color:#fff;line-height:11.49px;letter-spacing:0.12px;transform:scaleX(0.9788);">Hi!</div>
<div class="t" style="left:60.95px;top:171.72px;font-size:10px;font-weight:700;color:#fff;line-height:11.49px;letter-spacing:0.12px;transform:scaleX(1.0833);">Any&nbsp;option&nbsp;(default)</div>
<div class="t" style="left:69.3px;top:53.63px;font-size:10.5px;font-weight:700;color:#fff;line-height:12.06px;transform:scaleX(0.9928);">START&nbsp;MESSAGE</div>
<div class="t" style="left:310px;top:35.39px;font-size:10px;font-weight:700;color:#646464;line-height:11.49px;letter-spacing:0.3px;transform:scaleX(1.0960);">Let&#39;s&nbsp;get&nbsp;started,&nbsp;what&#39;s&nbsp;y...</div>
<div class="t" style="left:551.7px;top:35.39px;font-size:10px;font-weight:700;color:#646464;line-height:11.49px;letter-spacing:0.3px;transform:scaleX(1.0904);">Pleased&nbsp;to&nbsp;meet&nbsp;you&nbsp;*@na...</div>
<div class="t" style="left:788.5px;top:35.39px;font-size:10px;font-weight:700;color:#646464;line-height:11.49px;letter-spacing:0.3px;transform:scaleX(1.0755);">First,&nbsp;could&nbsp;you&nbsp;specify&nbsp;you...</div>
<div class="t" style="left:844.34px;top:79.82px;font-size:10px;font-weight:700;color:#fff;line-height:11.49px;letter-spacing:0.12px;transform:scaleX(1.0880);">Male</div>
<div class="t" style="left:837.56px;top:110.12px;font-size:10px;font-weight:700;color:#fff;line-height:11.49px;letter-spacing:0.12px;transform:scaleX(1.0881);">Female</div>
<div class="t" style="left:811.91px;top:140.42px;font-size:10px;font-weight:700;color:#fff;line-height:11.49px;letter-spacing:0.12px;transform:scaleX(1.0879);">I'd&nbsp;rather&nbsp;not&nbsp;say</div>
<div class="t" style="left:804.03px;top:170.72px;font-size:10px;font-weight:700;color:#fff;line-height:11.49px;letter-spacing:0.12px;transform:scaleX(1.0879);">Any&nbsp;option&nbsp;(default)</div>
<div class="t" style="left:68.5px;top:328.08px;font-size:11.2px;font-weight:400;color:#646464;line-height:12.87px;letter-spacing:0.25px;transform:scaleX(1.0786);-webkit-text-stroke:0.3px #646464;">And&nbsp;how&nbsp;*old*&nbsp;are&nbsp;you?</div>
<div class="t" style="left:106.46px;top:374.52px;font-size:10px;font-weight:700;color:#fff;line-height:11.49px;letter-spacing:0.12px;transform:scaleX(1.0880);">18-25</div>
<div class="t" style="left:106.46px;top:404.82px;font-size:10px;font-weight:700;color:#fff;line-height:11.49px;letter-spacing:0.12px;transform:scaleX(1.0880);">26-39</div>
<div class="t" style="left:106.46px;top:435.12px;font-size:10px;font-weight:700;color:#fff;line-height:11.49px;letter-spacing:0.12px;transform:scaleX(1.0880);">40-54</div>
<div class="t" style="left:106.46px;top:465.42px;font-size:10px;font-weight:700;color:#fff;line-height:11.49px;letter-spacing:0.12px;transform:scaleX(1.0880);">55-69</div>
<div class="t" style="left:68.03px;top:495.72px;font-size:10px;font-weight:700;color:#fff;line-height:11.49px;letter-spacing:0.12px;transform:scaleX(1.0879);">Any&nbsp;option&nbsp;(default)</div>
<div class="t" style="left:330.7px;top:492.28px;font-size:11.2px;font-weight:400;color:#646464;line-height:12.87px;letter-spacing:0.25px;transform:scaleX(1.0177);-webkit-text-stroke:0.3px #646464;">Great!</div>
<div class="t" style="left:445px;top:335.28px;font-size:11.2px;font-weight:400;color:#646464;line-height:12.87px;letter-spacing:0.25px;transform:scaleX(1.0459);-webkit-text-stroke:0.3px #646464;">Now,&nbsp;in&nbsp;a&nbsp;sentence,&nbsp;*what&nbsp;...</div>
<div class="t" style="left:673.8px;top:345.28px;font-size:11.2px;font-weight:400;color:#646464;line-height:12.87px;letter-spacing:0.25px;transform:scaleX(1.0647);-webkit-text-stroke:0.3px #646464;">And&nbsp;if&nbsp;you&nbsp;should&nbsp;give&nbsp;it&nbsp;a&nbsp;*...</div>
<div class="star" style="left:736.3px;top:376.75px"><svg width="14" height="14" viewBox="0 0 14 14"><polygon points="7,1.6 8.62,4.98 12.33,5.47 9.62,8.05 10.29,11.73 7,9.95 3.71,11.73 4.38,8.05 1.67,5.47 5.38,4.98" fill="url(#sg)" stroke="url(#sg)" stroke-width="1.3" stroke-linejoin="round"/></svg></div>
<div class="star" style="left:736.3px;top:407.05px"><svg width="14" height="14" viewBox="0 0 14 14"><polygon points="7,1.6 8.62,4.98 12.33,5.47 9.62,8.05 10.29,11.73 7,9.95 3.71,11.73 4.38,8.05 1.67,5.47 5.38,4.98" fill="url(#sg)" stroke="url(#sg)" stroke-width="1.3" stroke-linejoin="round"/></svg></div>
<div class="star" style="left:736.3px;top:437.35px"><svg width="14" height="14" viewBox="0 0 14 14"><polygon points="7,1.6 8.62,4.98 12.33,5.47 9.62,8.05 10.29,11.73 7,9.95 3.71,11.73 4.38,8.05 1.67,5.47 5.38,4.98" fill="url(#sg)" stroke="url(#sg)" stroke-width="1.3" stroke-linejoin="round"/></svg></div>
<div class="star" style="left:736.3px;top:467.65px"><svg width="14" height="14" viewBox="0 0 14 14"><polygon points="7,1.6 8.62,4.98 12.33,5.47 9.62,8.05 10.29,11.73 7,9.95 3.71,11.73 4.38,8.05 1.67,5.47 5.38,4.98" fill="url(#sg)" stroke="url(#sg)" stroke-width="1.3" stroke-linejoin="round"/></svg></div>
<div class="star" style="left:736.3px;top:497.95px"><svg width="14" height="14" viewBox="0 0 14 14"><polygon points="7,1.6 8.62,4.98 12.33,5.47 9.62,8.05 10.29,11.73 7,9.95 3.71,11.73 4.38,8.05 1.67,5.47 5.38,4.98" fill="url(#sg)" stroke="url(#sg)" stroke-width="1.3" stroke-linejoin="round"/></svg></div>
<div class="t" style="left:689.43px;top:530.22px;font-size:10px;font-weight:700;color:#fff;line-height:11.49px;letter-spacing:0.12px;transform:scaleX(1.0879);">Any&nbsp;option&nbsp;(default)</div>
<div class="t" style="left:908.4px;top:340.28px;font-size:11.2px;font-weight:400;color:#646464;line-height:12.87px;letter-spacing:0.25px;transform:scaleX(1.1094);-webkit-text-stroke:0.3px #646464;">What&nbsp;do&nbsp;you&nbsp;like</div>
<div class="t" style="left:962.9px;top:386.42px;font-size:10px;font-weight:700;color:#fff;line-height:11.49px;letter-spacing:0.12px;transform:scaleX(1.0880);">Tacos</div>
<div class="t" style="left:957.6px;top:416.72px;font-size:10px;font-weight:700;color:#fff;line-height:11.49px;letter-spacing:0.12px;transform:scaleX(1.0880);">Tex-Mex</div>
<div class="t" style="left:961.9px;top:447.02px;font-size:10px;font-weight:700;color:#fff;line-height:11.49px;letter-spacing:0.12px;transform:scaleX(1.0881);">Snacks</div>
<div class="t" style="left:950.4px;top:477.32px;font-size:10px;font-weight:700;color:#fff;line-height:11.49px;letter-spacing:0.12px;transform:scaleX(1.0879);">After&nbsp;eight</div>
<div class="t" style="left:961.1px;top:507.62px;font-size:10px;font-weight:700;color:#fff;line-height:11.49px;letter-spacing:0.12px;transform:scaleX(1.0880);">Tours</div>
<div class="t" style="left:923.6px;top:537.92px;font-size:10px;font-weight:700;color:#fff;line-height:11.49px;letter-spacing:0.12px;transform:scaleX(1.0879);">Any&nbsp;option&nbsp;(default)</div>
<div class="star" style="left:367.0px;top:491.5px"><svg width="14" height="13" viewBox="0 0 13.6 12.6"><path d="M4.4 7.2 L0.1 7.9 Q1.3 5.9 3.9 5.4 Z" fill="#f59a1c"/><path d="M4.4 7.2 L1.6 7.5 Q2.4 6.3 4.0 6.0 Z" fill="#fbd926"/><path d="M5.6 8.4 L0.6 12.2 Q0.8 9.6 3.6 7.6 Z" fill="#f7b21c"/><path d="M5.2 8.6 L1.9 10.9 Q2.2 9.4 4.0 8.0 Z" fill="#fde23a"/><path d="M6.6 3.6 Q3.4 3.2 1.7 5.9 L4.8 6.5 Z" fill="#e3262b"/><path d="M9.2 6.4 Q9.3 9.8 6.4 11.4 L6.0 8.3 Z" fill="#e3262b"/><path d="M13.2 0.4 Q13.7 4.4 9.7 7.5 L6.2 9.1 L3.8 6.7 L5.6 3.5 Q9.0 -0.3 13.2 0.4 Z" fill="#cdd6e0"/><path d="M13.2 0.4 Q13.7 4.4 9.7 7.5 L6.2 9.1 L5.0 7.9 Q10.6 5.6 13.2 0.4Z" fill="#3d7cbd"/><path d="M13.2 0.4 Q13.5 2.1 12.7 3.4 L10.4 1.1 Q11.7 0.3 13.2 0.4Z" fill="#5ea5e0"/><circle cx="8.6" cy="3.1" r="1.45" fill="#a8343c"/><circle cx="8.6" cy="3.1" r="1.0" fill="#170f1a"/><path d="M5.0 7.9 L3.9 9.6 L5.4 9.0 Z" fill="#2b5c96"/></svg></div>
</div>
</body></html>
